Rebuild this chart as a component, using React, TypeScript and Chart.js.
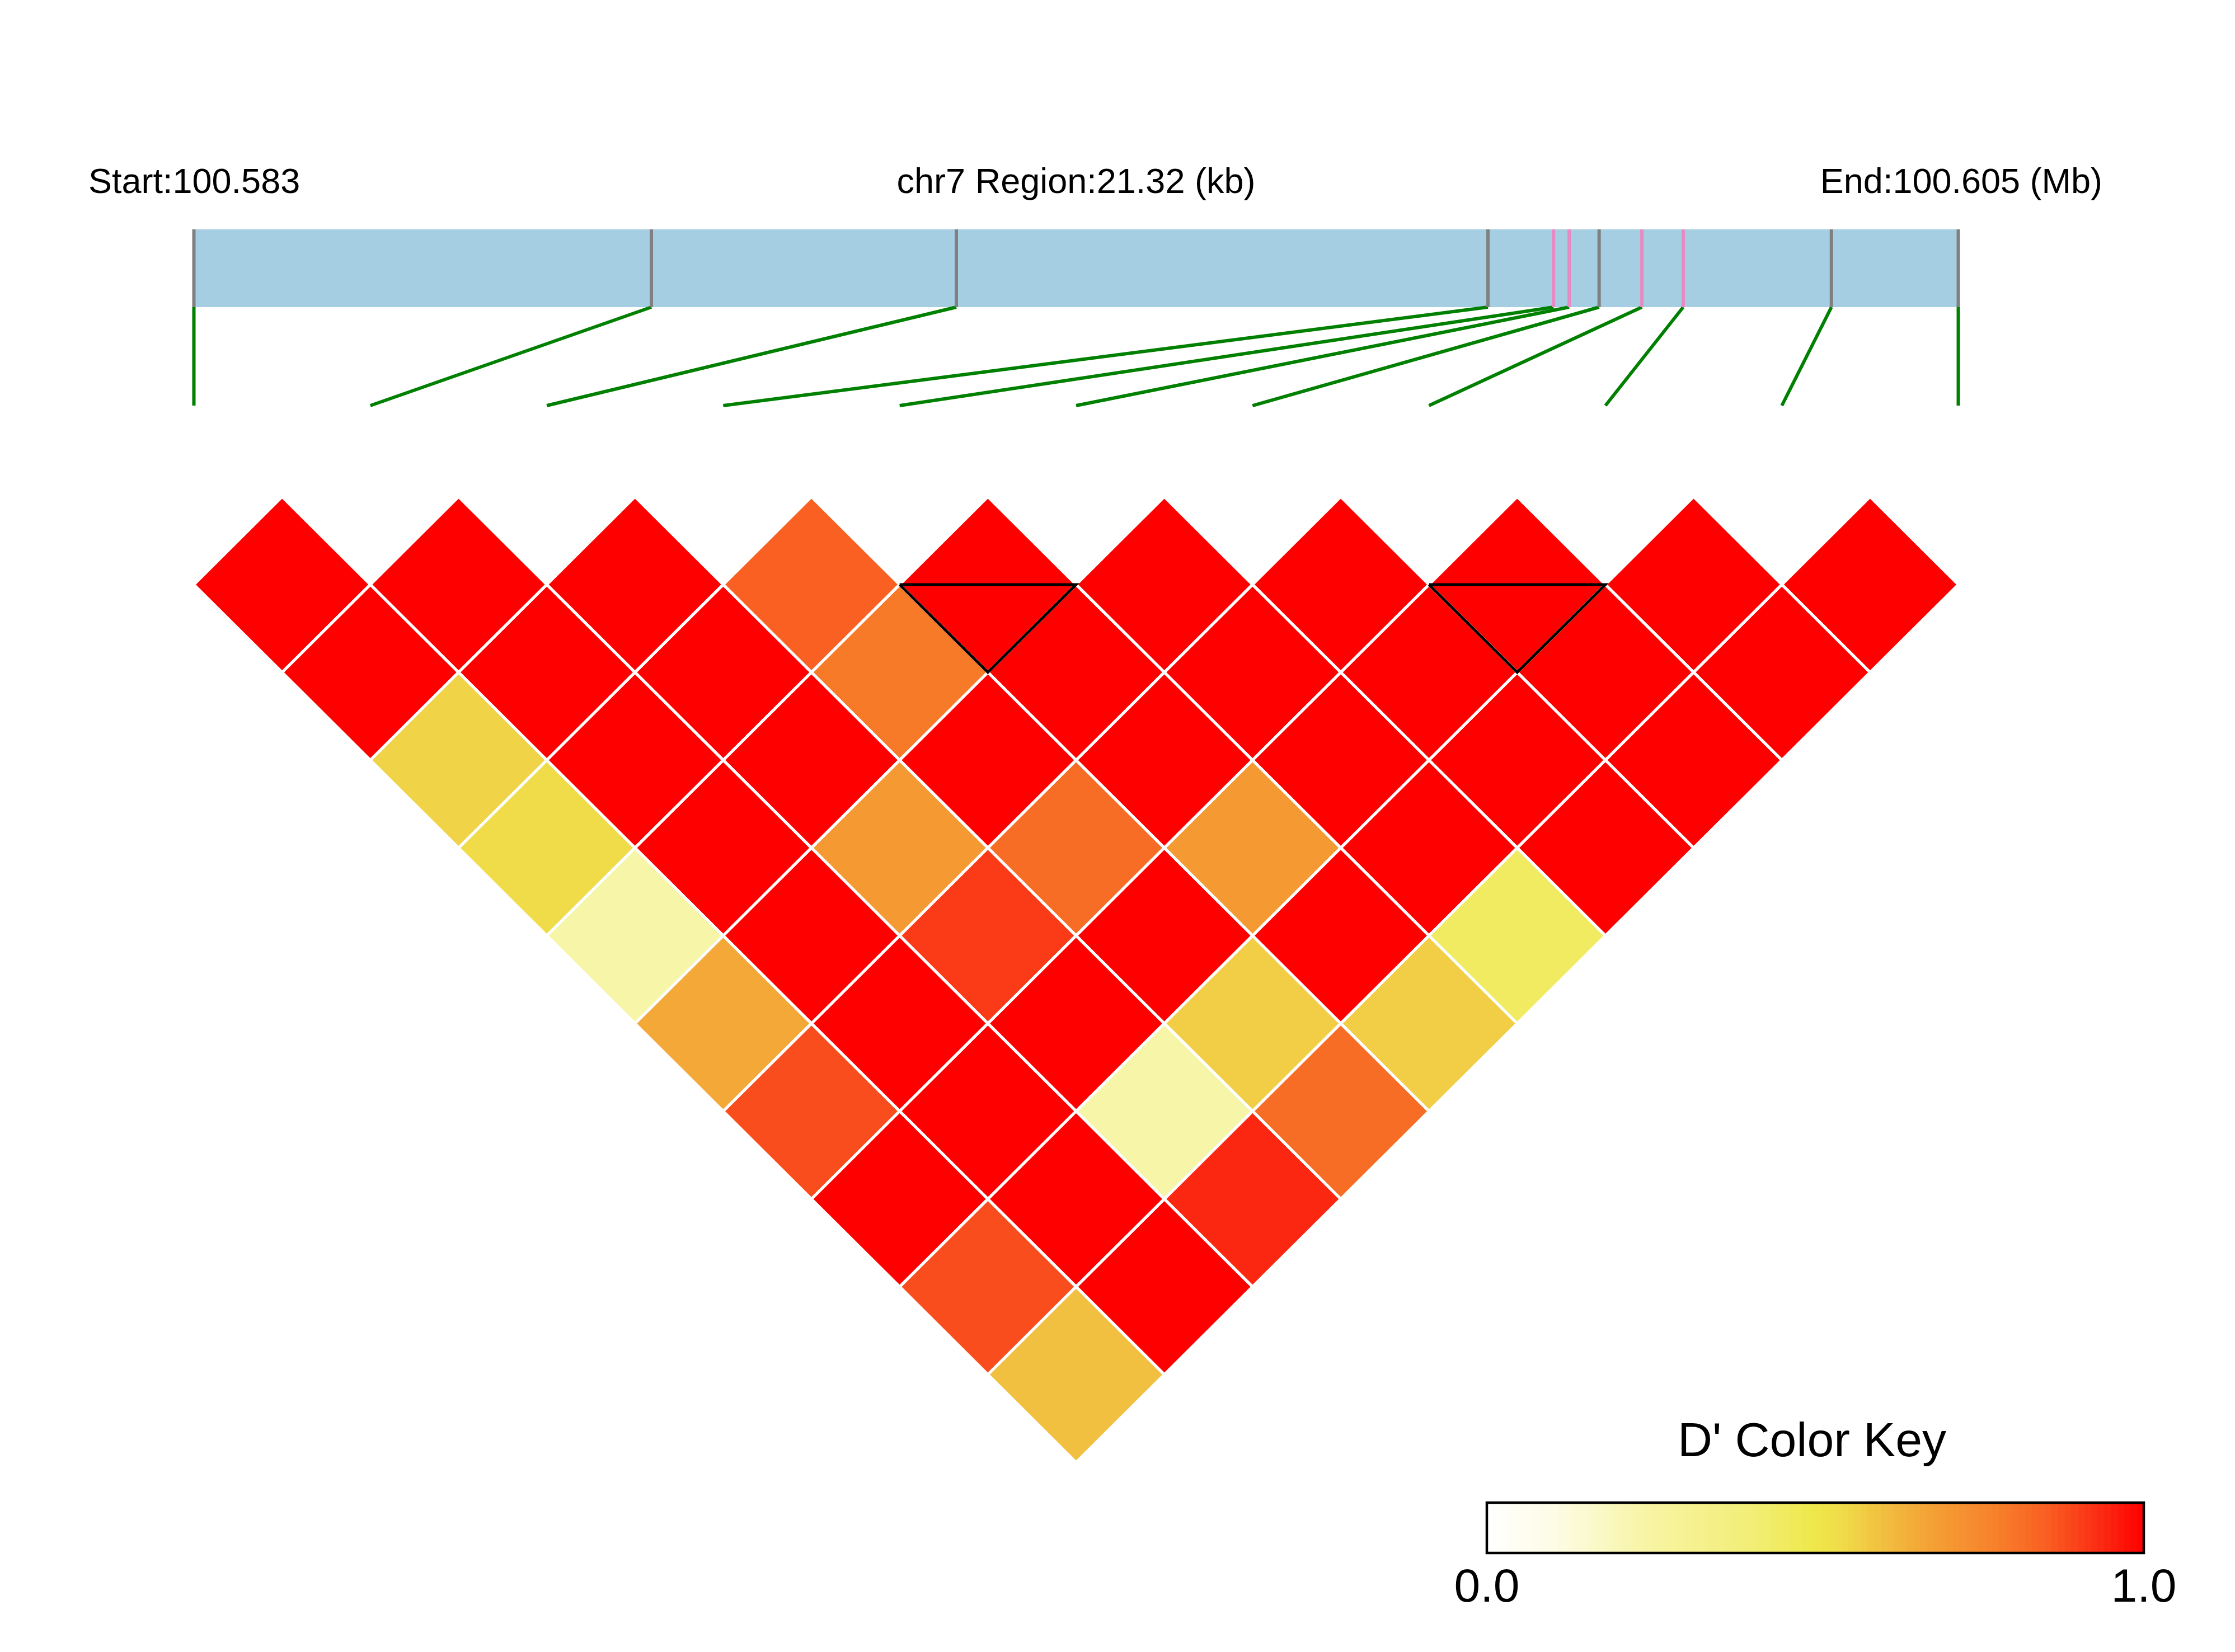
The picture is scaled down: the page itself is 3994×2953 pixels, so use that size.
import React, { useEffect, useRef } from 'react';
import { Chart, registerables } from 'chart.js';

Chart.register(...registerables);

// ---------------- data ----------------
const chromosome = 'chr7';
const regionStartMb = 100.583;
const regionEndMb = 100.605;
const regionKb = 21.32;

// SNP offsets from region start (kb), in map order
const snpOffsetsKb = [0, 5.528, 9.213, 15.637, 16.429, 16.618, 16.98, 17.497, 17.996, 19.787, 21.32];
// colour of each SNP's tick in the gene-map bar
const snpTickColors = ['#808080', '#808080', '#808080', '#808080', '#E78AC3', '#E78AC3', '#808080', '#E78AC3', '#E78AC3', '#808080', '#808080'];

// D' values, one list per SNP distance k: entry i is the pair (i, i + k)
const dPrimeDist1 = [1, 1, 1, 0.85, 1, 1, 1, 1, 1, 1];
const dPrimeDist2 = [1, 1, 1, 0.79, 1, 1, 1, 1, 1];
const dPrimeDist3 = [0.56, 1, 1, 1, 1, 1, 1, 1];
const dPrimeDist4 = [0.54, 1, 0.7, 0.82, 0.7, 1, 1];
const dPrimeDist5 = [0.24, 1, 0.91, 1, 1, 0.45];
const dPrimeDist6 = [0.66, 1, 1, 0.57, 0.57];
const dPrimeDist7 = [0.88, 1, 0.24, 0.82];
const dPrimeDist8 = [1, 1, 0.94];
const dPrimeDist9 = [0.88, 1];
const dPrimeDist10 = [0.6];
const dPrimeByDistance = [dPrimeDist1, dPrimeDist2, dPrimeDist3, dPrimeDist4, dPrimeDist5, dPrimeDist6, dPrimeDist7, dPrimeDist8, dPrimeDist9, dPrimeDist10];

// LD blocks: [first SNP, last SNP]
const ldBlocks = [[4, 5], [7, 8]];

// colour key
const keyTitle = "D' Color Key";
const keyTickLabels = ['0.0', '1.0'];
const paletteStops = [0, 0.1, 0.25, 0.4, 0.5, 0.55, 0.6, 0.68, 0.78, 0.85, 0.92, 1];
const paletteColors = ['#FFFFFF', '#FDFCE6', '#F7F4A2', '#F2EE78', '#EEE84A', '#F0D848', '#F2C040', '#F4A035', '#F77E2A', '#F96022', '#FB3416', '#FF0000'];

// ---------------- layout ----------------
const W = 3994;
const H = 2953;
const UNIT_X = 315.3; // px per SNP step (horizontal)
const UNIT_Y = 313.8; // px per SNP step (vertical)
const ORIGIN_X = 346.5;
const ORIGIN_Y = 888;
const TRACK_TOP = 1.5233;
const TRACK_BOTTOM = 1.0803;
const LINK_BOTTOM = 0.5194;
const TEXT_Y = 1.7304;
const START_TEXT_X = -0.598;
const END_TEXT_X = 10.817;
const KEY = { left: 2657, right: 3831, top: 2686, bottom: 2776, titleY: 2603, labelY: 2863 };

function hexToRgb(h: string) {
  const n = parseInt(h.slice(1), 16);
  return [(n >> 16) & 255, (n >> 8) & 255, n & 255];
}
function palette(v: number) {
  const t = Math.max(0, Math.min(1, v));
  for (let s = 1; s < paletteStops.length; s++) {
    if (t <= paletteStops[s]) {
      const a = paletteStops[s - 1], b = paletteStops[s];
      const f = (t - a) / (b - a);
      const c0 = hexToRgb(paletteColors[s - 1]);
      const c1 = hexToRgb(paletteColors[s]);
      const c = c0.map((c, i) => Math.round(c + (c1[i] - c) * f));
      return `rgb(${c[0]},${c[1]},${c[2]})`;
    }
  }
  return paletteColors[paletteColors.length - 1];
}

const nSnp = snpOffsetsKb.length;
const snpMapX = (kb: number) => (kb / regionKb) * (nSnp - 1);

function buildDatasets() {
  const ds: any[] = [];
  const base = { type: 'line', pointRadius: 0, pointHoverRadius: 0, tension: 0, borderJoinStyle: 'miter' };
  // gene map bar
  ds.push({
    ...base,
    data: [
      { x: 0, y: TRACK_TOP }, { x: nSnp - 1, y: TRACK_TOP }, { x: nSnp - 1, y: TRACK_BOTTOM },
      { x: 0, y: TRACK_BOTTOM }, { x: 0, y: TRACK_TOP },
    ],
    fill: 'shape', backgroundColor: '#A6CEE3', borderWidth: 0, borderColor: 'rgba(0,0,0,0)', order: 5,
  });
  // ticks on the bar and links to the heatmap
  snpOffsetsKb.forEach((kb, i) => {
    const mx = snpMapX(kb);
    ds.push({ ...base, data: [{ x: mx, y: TRACK_TOP }, { x: mx, y: TRACK_BOTTOM }], fill: false, borderColor: snpTickColors[i], borderWidth: 6, borderCapStyle: 'butt', order: 1 });
    ds.push({ ...base, data: [{ x: mx, y: TRACK_BOTTOM }, { x: i, y: LINK_BOTTOM }], fill: false, borderColor: '#008000', borderWidth: 6, borderCapStyle: 'butt', order: 1 });
  });
  // LD cells
  dPrimeByDistance.forEach((row, k0) => {
    const k = k0 + 1;
    row.forEach((v, i) => {
      const cx = i + k / 2;
      const cy = -k / 2;
      ds.push({
        ...base,
        data: [
          { x: cx - 0.5, y: cy }, { x: cx, y: cy + 0.5 }, { x: cx + 0.5, y: cy },
          { x: cx, y: cy - 0.5 }, { x: cx - 0.5, y: cy },
        ],
        fill: 'shape', backgroundColor: palette(v), borderColor: '#FFFFFF', borderWidth: 5, order: 3,
      });
    });
  });
  // LD block outlines
  ldBlocks.forEach(([a, b]) => {
    const bottom = -(b - a) / 2 - 0.5;
    ds.push({
      ...base,
      data: [{ x: a, y: -0.5 }, { x: b, y: -0.5 }, { x: (a + b) / 2, y: bottom }, { x: a, y: -0.5 }],
      fill: false, borderColor: '#000000', borderWidth: 5, order: -1,
    });
  });
  return ds;
}

const textPlugin = {
  id: 'ldText',
  afterDraw(chart: any) {
    const { ctx, scales } = chart;
    const xs = scales.x, ys = scales.y;
    ctx.save();
    ctx.fillStyle = '#000000';
    ctx.textBaseline = 'alphabetic';
    ctx.font = '63px "Liberation Sans", Arial, sans-serif';
    const ty = ys.getPixelForValue(TEXT_Y);
    ctx.textAlign = 'left';
    ctx.fillText(`Start:${regionStartMb.toFixed(3)}`, xs.getPixelForValue(START_TEXT_X), ty);
    ctx.textAlign = 'center';
    ctx.fillText(`${chromosome} Region:${regionKb.toFixed(2)} (kb)`, xs.getPixelForValue((nSnp - 1) / 2), ty);
    ctx.textAlign = 'right';
    ctx.fillText(`End:${regionEndMb.toFixed(3)} (Mb)`, xs.getPixelForValue(END_TEXT_X), ty);

    // colour key
    const steps = 100;
    const wBar = KEY.right - KEY.left;
    for (let s = 0; s < steps; s++) {
      const x0 = KEY.left + (wBar * s) / steps;
      ctx.fillStyle = palette((s + 0.5) / steps);
      ctx.fillRect(Math.floor(x0), KEY.top, Math.ceil(wBar / steps) + 1, KEY.bottom - KEY.top);
    }
    ctx.strokeStyle = '#000000';
    ctx.lineWidth = 4.5;
    ctx.strokeRect(KEY.left, KEY.top, wBar, KEY.bottom - KEY.top);
    ctx.fillStyle = '#000000';
    ctx.font = '86px "Liberation Sans", Arial, sans-serif';
    ctx.textAlign = 'center';
    ctx.fillText(keyTitle, (KEY.left + KEY.right) / 2 - 6, KEY.titleY);
    ctx.font = '84px "Liberation Sans", Arial, sans-serif';
    ctx.fillText(keyTickLabels[0], KEY.left, KEY.labelY);
    ctx.fillText(keyTickLabels[1], KEY.right, KEY.labelY);
    ctx.restore();
  },
};

export default function App() {
  const ref = useRef<HTMLCanvasElement | null>(null);
  useEffect(() => {
    if (!ref.current) return;
    const chart = new Chart(ref.current, {
      type: 'line',
      data: { datasets: buildDatasets() },
      options: {
        animation: false,
        responsive: false,
        devicePixelRatio: 1,
        layout: { padding: 0 },
        events: [],
        scales: {
          x: { type: 'linear', display: false, min: -ORIGIN_X / UNIT_X, max: (W - ORIGIN_X) / UNIT_X },
          y: { type: 'linear', display: false, min: (ORIGIN_Y - H) / UNIT_Y, max: ORIGIN_Y / UNIT_Y },
        },
        plugins: {
          legend: { display: false },
          tooltip: { enabled: false },
          title: { display: false },
          filler: { drawTime: 'beforeDatasetsDraw', propagate: false },
        },
      } as any,
      plugins: [textPlugin],
    });
    return () => chart.destroy();
  }, []);
  return (
    <div style={{ position: 'absolute', left: 0, top: 0, width: W, height: H, background: '#FFFFFF' }}>
      <canvas ref={ref} width={W} height={H} style={{ display: 'block' }} />
    </div>
  );
}
